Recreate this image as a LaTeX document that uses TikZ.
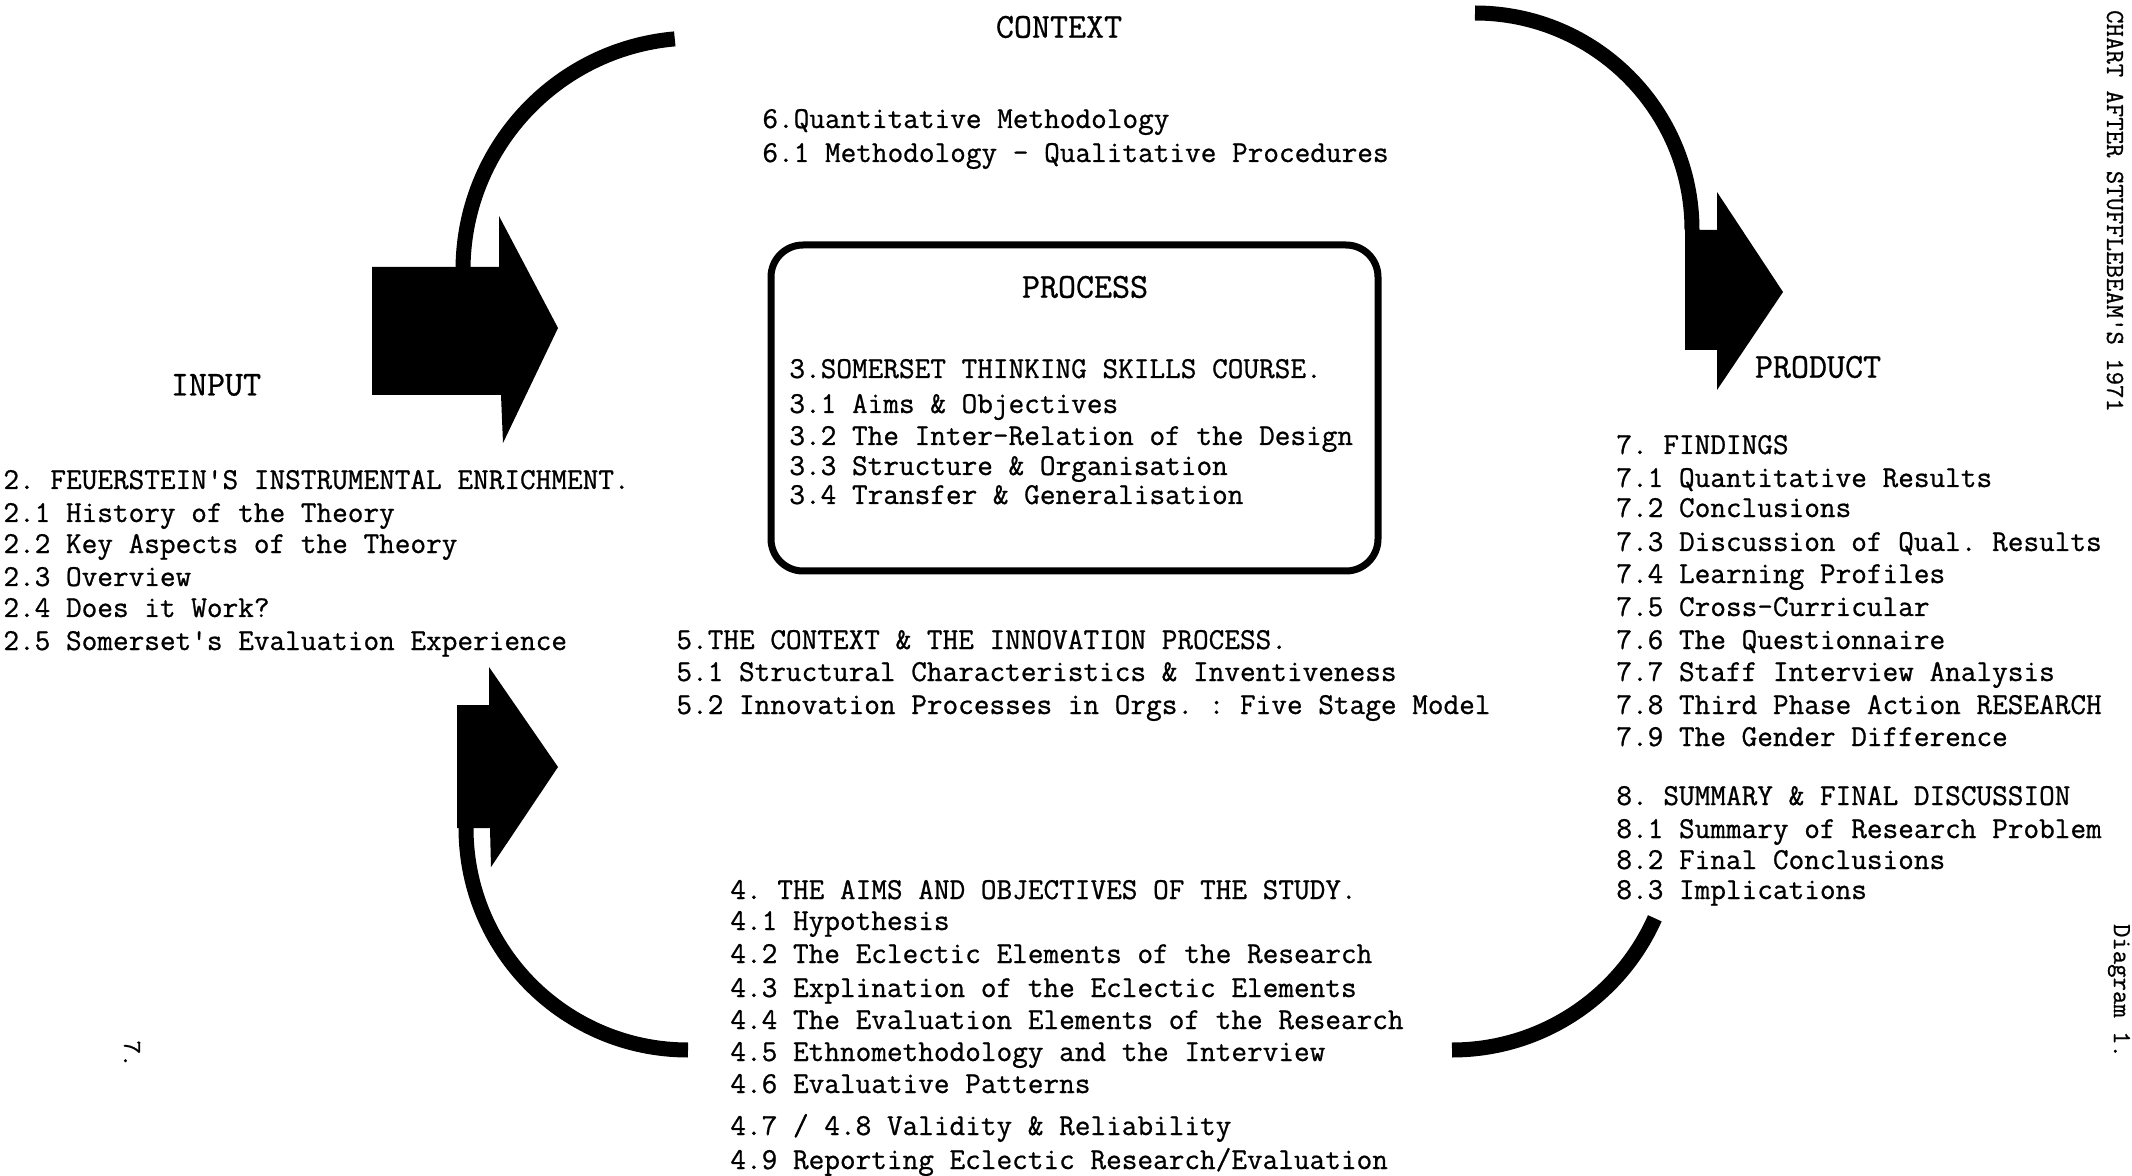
\documentclass[tikz,border=0pt]{standalone}
\usepackage{fontspec}
\setmonofont{Latin Modern Mono}[FakeBold=0.8]
\begin{document}
\begin{tikzpicture}[x=0.5pt,y=-0.5pt,
  body/.style={anchor=base west, inner sep=0pt, font=\ttfamily\fontsize{15.2}{18}\selectfont},
  head/.style={anchor=center, inner sep=0pt, font=\ttfamily\fontsize{17.5}{20}\selectfont},
  side/.style={anchor=center, inner sep=0pt, rotate=-90, font=\ttfamily\fontsize{13}{15}\selectfont},
  band/.style={line width=7.5pt, draw=black},
  blk/.style={fill=black},
  boxstyle/.style={draw=black, line width=3.5pt, rounded corners=16pt, inner sep=0pt}]
\fill[white] (0,0) rectangle (2132,1176);
\useasboundingbox (0,0) rectangle (2132,1176);

% curved bands
\draw[band] ([shift={(695,270)}]95:116pt) arc[start angle=95,end angle=180,radius=116pt];
\draw[band] ([shift={(1475,230)}]90:108.5pt) arc[start angle=90,end angle=0,radius=108.5pt];
\draw[band] ([shift={(688,828)}]180:111pt) arc[start angle=180,end angle=270,radius=111pt];
\draw[band] ([shift={(1452,828)}]270:111pt) arc[start angle=270,end angle=336,radius=111pt];

% block arrows
\fill[blk] (372,267) -- (499,267) -- (499,216) -- (558,328) -- (503,443) -- (501,395) -- (372,395) -- cycle;
\fill[blk] (1685,230) -- (1717,230) -- (1717,192) -- (1783,292) -- (1717,390) -- (1717,350) -- (1685,350) -- cycle;
\fill[blk] (457,705) -- (489,705) -- (489,667) -- (558,767) -- (491,867) -- (490,828) -- (457,828) -- cycle;

% process box
\node[boxstyle, minimum width=303.5pt, minimum height=163pt] (procbox) at (1074.5,408) {};

% headings
\node[head] (context) at (1059,27) {CONTEXT};
\node[head] (input) at (216,385) {INPUT};
\node[head] (process) at (1085,287) {PROCESS};
\node[head] (product) at (1818,367) {PRODUCT};

% context
\node[body] (t6) at (762,128) {6.Quantitative Methodology};
\node[body] (t61) at (762,162) {6.1 Methodology - Qualitative Procedures};

% process
\node[body] (t3) at (789,378) {3.SOMERSET THINKING SKILLS COURSE.};
\node[body] (t31) at (789,413) {3.1 Aims \& Objectives};
\node[body] (t32) at (789,445) {3.2 The Inter-Relation of the Design};
\node[body] (t33) at (789,475) {3.3 Structure \& Organisation};
\node[body] (t34) at (789,504) {3.4 Transfer \& Generalisation};

% input
\node[body] (t2) at (3,489) {2. FEUERSTEIN'S INSTRUMENTAL ENRICHMENT.};
\node[body] (t21) at (3,522) {2.1 History of the Theory};
\node[body] (t22) at (3,553) {2.2 Key Aspects of the Theory};
\node[body] (t23) at (3,586) {2.3 Overview};
\node[body] (t24) at (3,617) {2.4 Does it Work?};
\node[body] (t25) at (3,650) {2.5 Somerset's Evaluation Experience};

% section 5
\node[body] (t5) at (676,649) {5.THE CONTEXT \& THE INNOVATION PROCESS.};
\node[body] (t51) at (676,681) {5.1 Structural Characteristics \& Inventiveness};
\node[body] (t52) at (676,714) {5.2 Innovation Processes in Orgs. : Five Stage Model};

% section 4
\node[body] (t4) at (730,899) {4. THE AIMS AND OBJECTIVES OF THE STUDY.};
\node[body] (t41) at (730,930) {4.1 Hypothesis};
\node[body] (t42) at (730,963) {4.2 The Eclectic Elements of the Research};
\node[body] (t43) at (730,997) {4.3 Explination of the Eclectic Elements};
\node[body] (t44) at (730,1029) {4.4 The Evaluation Elements of the Research};
\node[body] (t45) at (730,1061) {4.5 Ethnomethodology and the Interview};
\node[body] (t46) at (730,1093) {4.6 Evaluative Patterns};
\node[body] (t47) at (730,1135) {4.7 / 4.8 Validity \& Reliability};
\node[body] (t49) at (730,1169) {4.9 Reporting Eclectic Research/Evaluation};

% product
\node[body] (t7) at (1616,454) {7. FINDINGS};
\node[body] (t71) at (1616,487) {7.1 Quantitative Results};
\node[body] (t72) at (1616,517) {7.2 Conclusions};
\node[body] (t73) at (1616,551) {7.3 Discussion of Qual. Results};
\node[body] (t74) at (1616,583) {7.4 Learning Profiles};
\node[body] (t75) at (1616,616) {7.5 Cross-Curricular};
\node[body] (t76) at (1616,649) {7.6 The Questionnaire};
\node[body] (t77) at (1616,681) {7.7 Staff Interview Analysis};
\node[body] (t78) at (1616,714) {7.8 Third Phase Action RESEARCH};
\node[body] (t79) at (1616,746) {7.9 The Gender Difference};
\node[body] (t8) at (1616,805) {8. SUMMARY \& FINAL DISCUSSION};
\node[body] (t81) at (1616,838) {8.1 Summary of Research Problem};
\node[body] (t82) at (1616,869) {8.2 Final Conclusions};
\node[body] (t83) at (1616,899) {8.3 Implications};

% side texts
\node[side] (chart) at (2115,211) {CHART AFTER STUFFLEBEAM'S 1971};
\node[side] (diag) at (2119,991) {Diagram 1.};
\node[side] (pageno) at (132,1054) {7.};
\end{tikzpicture}
\end{document}
